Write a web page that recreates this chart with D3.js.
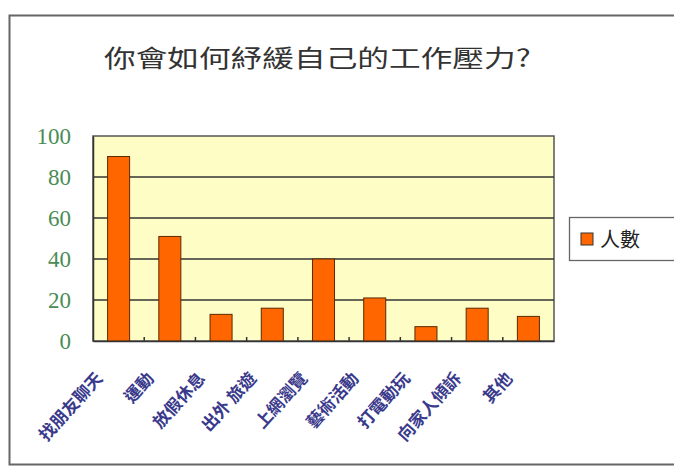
<!DOCTYPE html>
<html>
<head>
<meta charset="utf-8">
<script src="https://cdn.jsdelivr.net/npm/d3@7"></script>
<style>
  body { margin: 0; background: #fff; }
  svg { display: block; }
</style>
</head>
<body>
<div id="container"></div>
<script>
/* CONSTANTS AND GLOBALS */
const width = 674
const height = 470
const margin = { top: 136, bottom: 129, left: 93, right: 120 }

// data
const categories = ["找朋友聊天", "運動", "放假休息", "出外 旅遊", "上網瀏覽", "藝術活動", "打電動玩", "向家人傾訴", "其他"]
const counts = [90, 51, 13, 16, 40, 21, 7, 16, 12]
const yTicks = [0, 20, 40, 60, 80, 100]
const seriesName = "人數"
const title = "你會如何紓緩自己的工作壓力?"

const svg = d3.select("#container")
  .append("svg")
  .attr("width", width)
  .attr("height", height)

// outer chart frame
svg.append("rect")
  .attr("x", 9.5).attr("y", 15.5)
  .attr("width", 680).attr("height", 449)
  .attr("fill", "#fff")
  .attr("stroke", "#666")
  .attr("stroke-width", 2)

// title glyphs are stretched wide in the original
svg.append("text")
  .attr("transform", "translate(104, 67) scale(1.32, 1)")
  .attr("font-family", "'Noto Sans CJK TC', sans-serif")
  .attr("font-size", 24)
  .attr("fill", "#333")
  .text(title)

// SCALES
const xScale = d3.scaleBand()
  .domain(categories)
  .range([margin.left, width - margin.right])
  .paddingInner(0.57)
  .paddingOuter(0.285)

const yScale = d3.scaleLinear()
  .domain([0, 100])
  .range([height - margin.bottom, margin.top])

// plot background
svg.append("rect")
  .attr("x", margin.left).attr("y", margin.top)
  .attr("width", width - margin.right - margin.left)
  .attr("height", height - margin.bottom - margin.top)
  .attr("fill", "#fffdc6")
  .attr("stroke", "#555")
  .attr("stroke-width", 1.5)

// gridlines
svg.selectAll(".grid")
  .data(yTicks.filter(d => d > 0 && d < 100))
  .join("line")
  .attr("class", "grid")
  .attr("x1", margin.left).attr("x2", width - margin.right)
  .attr("y1", d => yScale(d)).attr("y2", d => yScale(d))
  .attr("stroke", "#333")
  .attr("stroke-width", 1.3)

// BARS
svg.selectAll(".bar")
  .data(counts)
  .join("rect")
  .attr("class", "bar")
  .attr("x", (d, i) => xScale(categories[i]))
  .attr("y", d => yScale(d))
  .attr("width", xScale.bandwidth())
  .attr("height", d => yScale(0) - yScale(d))
  .attr("fill", "#ff6600")
  .attr("stroke", "#5a2a00")
  .attr("stroke-width", 1)

// Y AXIS
const yAxis = d3.axisLeft(yScale).tickValues(yTicks).tickSize(0).tickPadding(22)
const yAxisGroup = svg.append("g")
  .attr("transform", `translate(${margin.left}, 0)`)
  .call(yAxis)
yAxisGroup.select(".domain").attr("stroke", "#333").attr("stroke-width", 1.5)
yAxisGroup.selectAll("text")
  .attr("font-family", "'Liberation Serif', serif")
  .attr("font-size", 23)
  .attr("fill", "#4a8c55")

// X AXIS
const xAxisGroup = svg.append("g")
  .attr("transform", `translate(0, ${height - margin.bottom})`)
  .call(d3.axisBottom(xScale).tickSize(0))
xAxisGroup.select(".domain").attr("stroke", "#333").attr("stroke-width", 1.5)
xAxisGroup.selectAll("text")
  .attr("y", 0)
  .attr("dy", 0)
  .attr("font-family", "'Noto Sans CJK TC', sans-serif")
  .attr("font-size", 17)
  .attr("font-weight", "bold")
  .attr("fill", "#3a3a8c")
  .attr("text-anchor", "end")
  .attr("transform", "translate(-15, 38) rotate(-48)")

// small inward ticks between categories
const step = xScale.step()
svg.selectAll(".cat-tick")
  .data(categories.slice(1))
  .join("line")
  .attr("class", "cat-tick")
  .attr("x1", d => xScale(d) - xScale.paddingInner() * step / 2)
  .attr("x2", d => xScale(d) - xScale.paddingInner() * step / 2)
  .attr("y1", yScale(0)).attr("y2", yScale(0) - 4)
  .attr("stroke", "#333")
  .attr("stroke-width", 1.5)

// LEGEND
const legend = svg.append("g").attr("transform", "translate(569, 217)")
legend.append("rect")
  .attr("x", 0.5).attr("y", 0.5)
  .attr("width", 120).attr("height", 43)
  .attr("fill", "#fff")
  .attr("stroke", "#666")
  .attr("stroke-width", 1.3)
legend.append("rect")
  .attr("x", 12).attr("y", 16)
  .attr("width", 12).attr("height", 12)
  .attr("fill", "#ff6600")
  .attr("stroke", "#333")
legend.append("text")
  .attr("x", 31).attr("y", 30)
  .attr("font-family", "'Noto Sans CJK TC', sans-serif")
  .attr("font-size", 20)
  .attr("fill", "#222")
  .text(seriesName)
</script>
</body>
</html>
